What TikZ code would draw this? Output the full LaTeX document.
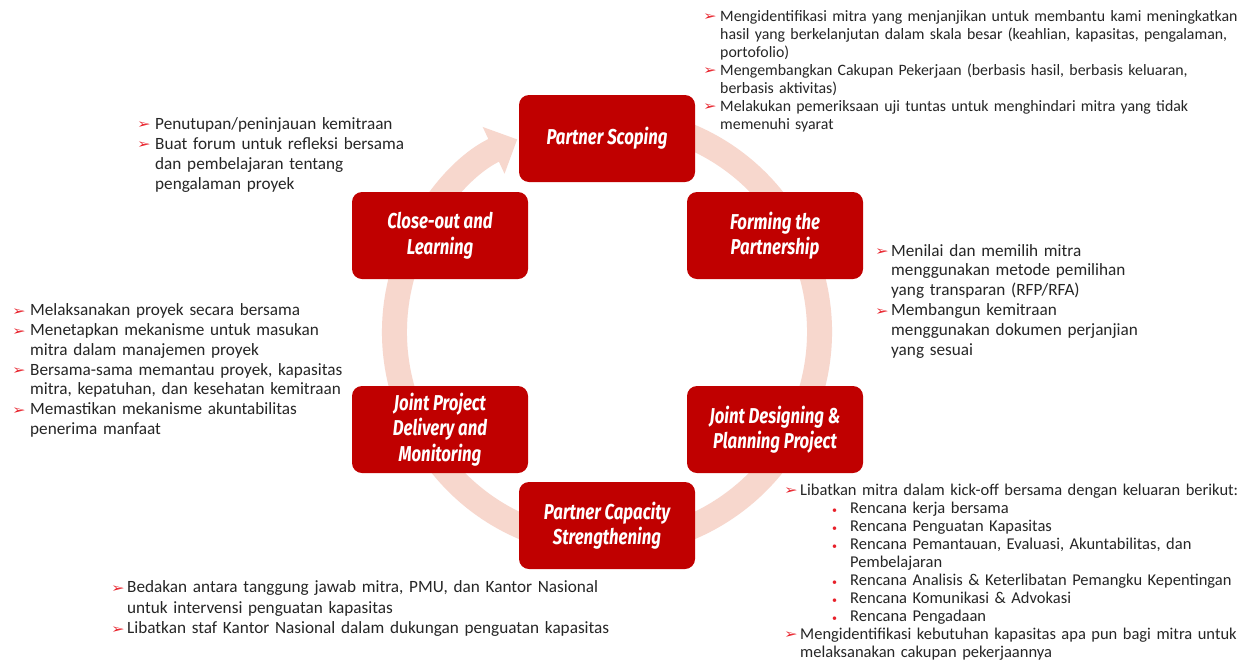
\documentclass[tikz,border=0pt]{standalone}
\usepackage{fontspec}
\setmainfont{Carlito}
\newfontfamily\boxfont[FakeStretch=0.78]{Fira Sans}
\newfontfamily\dingfont{DejaVu Sans}
\usetikzlibrary{arrows.meta}
\definecolor{boxred}{RGB}{192,0,0}
\definecolor{ringpink}{RGB}{247,215,205}
\definecolor{bulred}{RGB}{232,32,42}
\newlength\bulind
\setlength\bulind{16pt}
\newcommand{\arrb}{\makebox[\bulind][l]{\raisebox{0.3pt}{\scalebox{1.3}[1]{\dingfont\fontsize{12.5}{12.5}\selectfont\color{bulred}➢}}}}
\newcommand{\itm}[1]{\par\hangindent=\bulind\hangafter=1\noindent\rule{0pt}{14pt}\arrb#1}
\newcommand{\sitm}[1]{\par\hangindent=66pt\hangafter=1\noindent\rule{0pt}{14pt}\hspace*{48pt}\makebox[18pt][l]{\color{bulred}\fontsize{10}{10}\selectfont\textbullet}#1}
\tikzset{
  stage/.style={fill=boxred, rounded corners=10pt, minimum width=176pt, minimum height=87pt,
    text=white, align=center, inner sep=0pt,
    font=\boxfont\bfseries\itshape\fontsize{21.5}{25.5}\selectfont},
  lst/.style={anchor=north west, inner sep=0pt, text width=560pt, text=black!85}
}
\begin{document}
\begin{tikzpicture}[x=1pt,y=-1pt]
\useasboundingbox (0,0) rectangle (1246,662);
\fill[white] (0,0) rectangle (1246,662);
% ring arrow
\draw[ringpink, line width=25pt, -{Triangle[width=50pt,length=26pt]}]
  (662,126.7) arc[start angle=-75, end angle=245, radius=212.5];
% stages
\node[stage] (ps) at (607,138.5) {Partner Scoping};
\node[stage] (co) at (440,235.5) {Close-out and\\Learning};
\node[stage] (fp) at (775,235.5) {Forming the\\Partnership};
\node[stage] (jp) at (440,429.5) {Joint Project\\Delivery and\\Monitoring};
\node[stage] (jd) at (775,429.5) {Joint Designing \&\\Planning Project};
\node[stage] (pc) at (607,525.5) {Partner Capacity\\Strengthening};
% lists
\node[lst, font=\fontsize{15.85}{18}\selectfont] (l1) at (703,3) {\setlength\bulind{17pt}%
\itm{Mengidentifikasi mitra yang menjanjikan untuk membantu kami meningkatkan\newline hasil yang berkelanjutan dalam skala besar (keahlian, kapasitas, pengalaman,\newline portofolio)}%
\itm{Mengembangkan Cakupan Pekerjaan (berbasis hasil, berbasis keluaran,\newline berbasis aktivitas)}%
\itm{Melakukan pemeriksaan uji tuntas untuk menghindari mitra yang tidak\newline memenuhi syarat}\par};
\node[lst, font=\fontsize{17.2}{20}\selectfont] (l2) at (137,109) {\setlength\bulind{18pt}%
\itm{Penutupan/peninjauan kemitraan}%
\itm{Buat forum untuk refleksi bersama\newline dan pembelajaran tentang\newline pengalaman proyek}\par};
\node[lst, font=\fontsize{17.2}{19.8}\selectfont] (l3) at (875,236) {\setlength\bulind{16pt}%
\itm{Menilai dan memilih mitra\newline menggunakan metode pemilihan\newline yang transparan (RFP/RFA)}%
\itm{Membangun kemitraan\newline menggunakan dokumen perjanjian\newline yang sesuai}\par};
\node[lst, font=\fontsize{17.2}{19.7}\selectfont] (l4) at (12,296) {\setlength\bulind{18pt}%
\itm{Melaksanakan proyek secara bersama}%
\itm{Menetapkan mekanisme untuk masukan\newline mitra dalam manajemen proyek}%
\itm{Bersama-sama memantau proyek, kapasitas\newline mitra, kepatuhan, dan kesehatan kemitraan}%
\itm{Memastikan mekanisme akuntabilitas\newline penerima manfaat}\par};
\node[lst, font=\fontsize{17.2}{20.5}\selectfont] (l5) at (111,572) {\setlength\bulind{16pt}%
\itm{Bedakan antara tanggung jawab mitra, PMU, dan Kantor Nasional\newline untuk intervensi penguatan kapasitas}%
\itm{Libatkan staf Kantor Nasional dalam dukungan penguatan kapasitas}\par};
\node[lst, font=\fontsize{16.5}{18}\selectfont] (l6) at (784,477) {\setlength\bulind{16pt}%
\itm{Libatkan mitra dalam kick-off bersama dengan keluaran berikut:}%
\sitm{Rencana kerja bersama}%
\sitm{Rencana Penguatan Kapasitas}%
\sitm{Rencana Pemantauan, Evaluasi, Akuntabilitas, dan\newline Pembelajaran}%
\sitm{Rencana Analisis \& Keterlibatan Pemangku Kepentingan}%
\sitm{Rencana Komunikasi \& Advokasi}%
\sitm{Rencana Pengadaan}%
\itm{Mengidentifikasi kebutuhan kapasitas apa pun bagi mitra untuk\newline melaksanakan cakupan pekerjaannya}\par};
\end{tikzpicture}
\end{document}
